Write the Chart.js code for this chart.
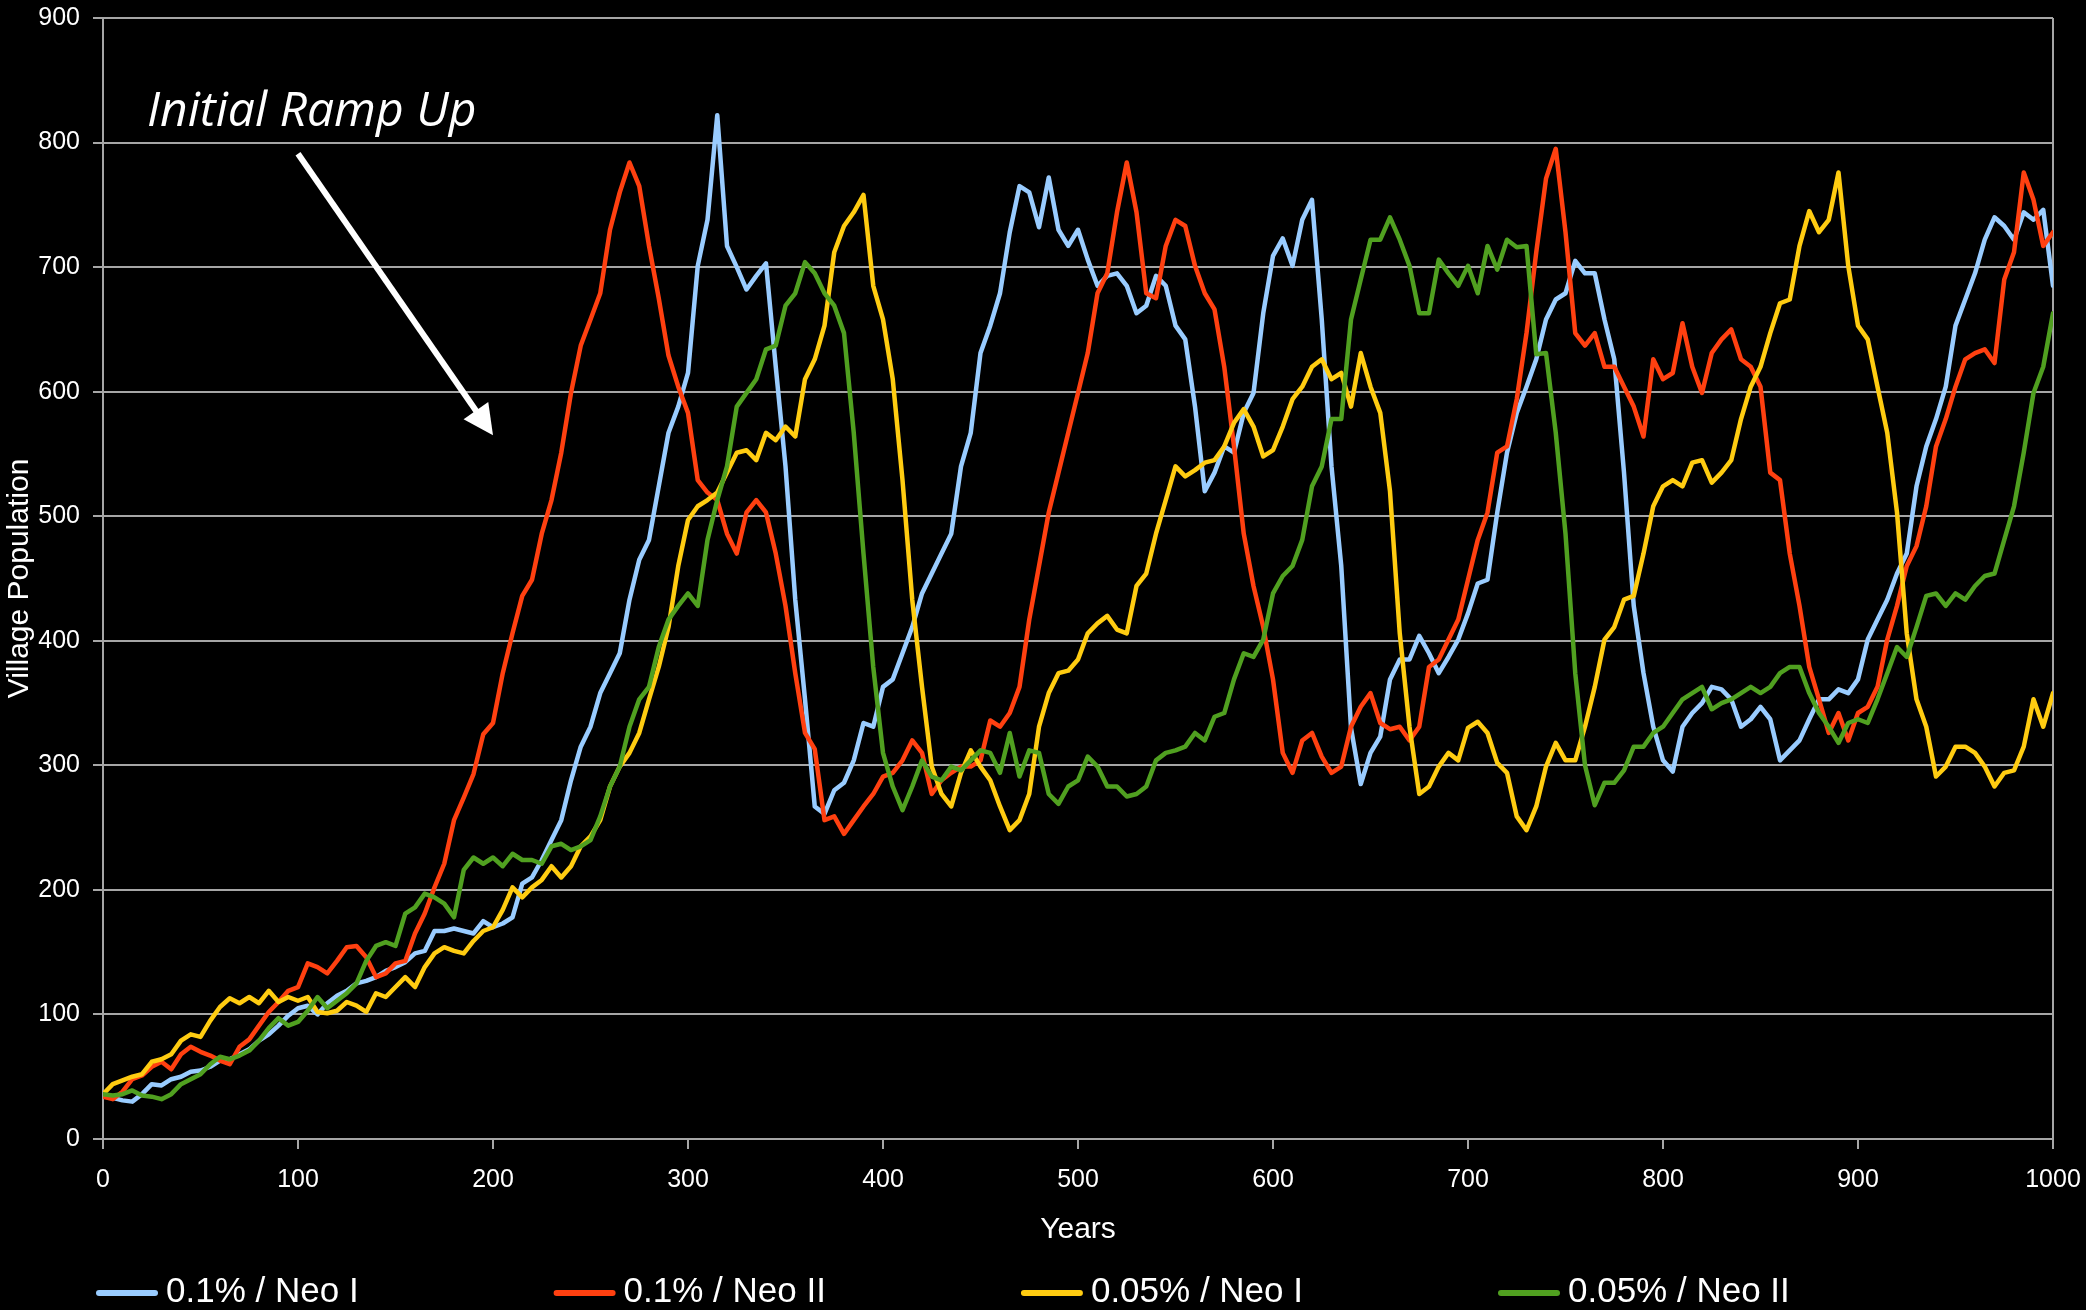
<!DOCTYPE html>
<html>
<head>
<meta charset="utf-8">
<title>Village Population</title>
<script src="https://cdn.jsdelivr.net/npm/chart.js@4/dist/chart.umd.min.js"></script>
<style>
  html, body { margin: 0; padding: 0; background: #000; overflow: hidden; }
  canvas { display: block; }
</style>
</head>
<body>
<canvas id="chart" width="2086" height="1310"></canvas>
<script>
// Simulation years, sampled every 5 years (0 … 1000)
const years = Array.from({ length: 201 }, (_, i) => i * 5);

// Village population per scenario, one value per sampled year
const popHighNeo1 = [
  35, 33, 31, 30, 36, 44, 43, 48, 50, 54, 55, 58, 63, 64, 68, 72, 79, 84, 91, 99,
  105, 107, 100, 109, 115, 119, 125, 127, 130, 135, 138, 142, 149, 151, 167, 167, 169, 167, 165, 175,
  170, 173, 178, 205, 210, 224, 240, 256, 288, 315, 331, 358, 374, 390, 433, 465, 481, 524, 567, 588,
  615, 701, 738, 822, 717, 700, 682, 693, 703, 620, 540, 433, 353, 267, 261, 280, 286, 304, 334, 331,
  363, 369, 390, 411, 438, 454, 470, 486, 540, 567, 631, 653, 679, 728, 765, 760, 732, 772, 730, 717,
  730, 706, 685, 693, 695, 685, 663, 669, 693, 685, 653, 642, 588, 520, 535, 556, 551, 583, 599, 663,
  709, 723, 701, 738, 754, 658, 540, 460, 330, 285, 310, 323, 369, 385, 385, 404, 390, 374, 387, 401,
  422, 446, 449, 503, 551, 583, 604, 626, 658, 674, 679, 705, 695, 695, 658, 626, 535, 428, 374, 331,
  304, 295, 331, 342, 350, 363, 361, 353, 331, 337, 347, 337, 304, 312, 320, 337, 353, 353, 361, 358,
  369, 401, 417, 433, 454, 470, 524, 556, 578, 604, 653, 674, 695, 722, 740, 733, 722, 744, 738, 746,
  685
];
const popHighNeo2 = [
  34, 32, 38, 48, 51, 58, 62, 56, 68, 74, 70, 67, 63, 60, 74, 80, 91, 102, 110, 119,
  122, 141, 138, 133, 143, 154, 155, 146, 130, 133, 141, 143, 165, 181, 202, 221, 256, 274, 293, 325,
  334, 374, 406, 436, 449, 486, 513, 551, 599, 637, 658, 679, 730, 760, 784, 765, 717, 675, 629, 604,
  583, 529, 519, 513, 486, 470, 503, 513, 503, 470, 428, 374, 326, 313, 256, 259, 245, 256, 267, 277,
  291, 294, 304, 320, 310, 277, 288, 294, 299, 299, 304, 336, 331, 342, 363, 417, 460, 503, 535, 567,
  599, 631, 679, 695, 744, 784, 744, 679, 675, 717, 738, 733, 701, 679, 666, 620, 556, 486, 444, 411,
  369, 310, 294, 320, 326, 307, 294, 299, 331, 347, 358, 334, 329, 331, 320, 331, 379, 385, 401, 417,
  449, 481, 503, 551, 556, 594, 647, 712, 771, 795, 728, 647, 637, 647, 620, 620, 604, 588, 564, 626,
  610, 615, 655, 620, 599, 631, 642, 650, 626, 620, 604, 535, 529, 470, 428, 379, 353, 326, 342, 320,
  342, 347, 363, 401, 428, 460, 476, 508, 556, 578, 604, 626, 631, 634, 623, 690, 712, 776, 754, 717,
  728
];
const popLowNeo1 = [
  36, 44, 47, 50, 52, 62, 64, 68, 79, 84, 82, 95, 106, 113, 109, 114, 109, 119, 110, 114,
  111, 114, 102, 101, 103, 110, 107, 102, 117, 114, 122, 130, 122, 138, 149, 154, 151, 149, 159, 167,
  170, 184, 202, 194, 202, 208, 219, 210, 219, 235, 243, 256, 283, 299, 310, 326, 353, 379, 411, 460,
  497, 508, 513, 519, 535, 551, 553, 545, 567, 561, 572, 564, 610, 626, 653, 712, 733, 744, 758, 685,
  658, 610, 529, 433, 363, 299, 277, 267, 294, 312, 299, 288, 267, 248, 256, 277, 331, 358, 374, 376,
  385, 406, 414, 420, 409, 406, 444, 454, 486, 513, 540, 532, 537, 543, 545, 556, 575, 586, 572, 548,
  553, 572, 594, 604, 620, 626, 610, 615, 588, 631, 604, 583, 520, 406, 331, 277, 283, 299, 310, 304,
  330, 335, 326, 302, 294, 259, 248, 267, 299, 318, 304, 304, 331, 363, 401, 411, 433, 436, 470, 508,
  524, 529, 524, 543, 545, 527, 535, 545, 578, 604, 620, 647, 671, 674, 717, 745, 728, 738, 776, 701,
  653, 642, 604, 567, 503, 406, 353, 331, 291, 299, 315, 315, 310, 299, 283, 294, 296, 315, 353, 331,
  358
];
const popLowNeo2 = [
  36, 35, 36, 39, 35, 34, 32, 36, 44, 48, 52, 60, 66, 64, 67, 71, 79, 89, 97, 91,
  94, 103, 114, 105, 111, 117, 125, 143, 155, 158, 155, 181, 186, 197, 194, 189, 178, 216, 226, 221,
  226, 219, 229, 224, 224, 221, 235, 237, 232, 235, 240, 259, 283, 299, 331, 353, 363, 395, 417, 428,
  438, 428, 481, 513, 540, 588, 599, 610, 634, 637, 669, 679, 704, 695, 679, 669, 647, 567, 470, 379,
  310, 283, 264, 283, 304, 291, 288, 299, 296, 304, 312, 310, 294, 326, 291, 312, 310, 277, 269, 283,
  288, 307, 299, 283, 283, 275, 277, 283, 304, 310, 312, 315, 326, 320, 339, 342, 369, 390, 387, 401,
  438, 452, 460, 481, 524, 540, 578, 578, 658, 690, 722, 722, 740, 722, 701, 663, 663, 706, 695, 685,
  701, 679, 717, 698, 722, 716, 717, 630, 631, 567, 486, 374, 300, 268, 286, 286, 296, 315, 315, 326,
  331, 342, 353, 358, 363, 345, 350, 353, 358, 363, 358, 363, 374, 379, 379, 358, 342, 331, 318, 334,
  337, 334, 353, 374, 395, 387, 411, 436, 438, 428, 438, 433, 444, 452, 454, 481, 508, 551, 599, 620,
  663
];

const seriesLabels = ['0.1% / Neo I', '0.1% / Neo II', '0.05% / Neo I', '0.05% / Neo II'];
const seriesValues = [popHighNeo1, popHighNeo2, popLowNeo1, popLowNeo2];
const seriesColors = ['#99ccff', '#ff4010', '#ffcc11', '#50a020'];

const GRID = '#a6a6a6';
const SANS = '"Liberation Sans", Arial, Helvetica, sans-serif';
Chart.defaults.font.family = SANS;
Chart.defaults.color = '#ffffff';

// Callout: italic caption with an arrow pointing at the early growth phase
const rampCallout = {
  id: 'rampCallout',
  afterDatasetsDraw(chart) {
    const { ctx, scales: { x, y } } = chart;
    ctx.save();
    ctx.fillStyle = '#ffffff';
    ctx.font = 'italic 48px "Open Sans", "Noto Sans", sans-serif';
    ctx.textBaseline = 'alphabetic';
    ctx.textAlign = 'left';
    ctx.fillText('Initial Ramp Up', x.getPixelForValue(22.6), y.getPixelForValue(813));

    const x0 = x.getPixelForValue(100), y0 = y.getPixelForValue(791);
    const x1 = x.getPixelForValue(200), y1 = y.getPixelForValue(565);
    const len = Math.hypot(x1 - x0, y1 - y0);
    const ux = (x1 - x0) / len, uy = (y1 - y0) / len;
    const headLen = 30, headHalf = 15;
    const bx = x1 - ux * headLen, by = y1 - uy * headLen;
    ctx.strokeStyle = '#ffffff';
    ctx.lineWidth = 6;
    ctx.lineCap = 'butt';
    ctx.beginPath();
    ctx.moveTo(x0, y0);
    ctx.lineTo(bx + ux * 2, by + uy * 2);
    ctx.stroke();
    ctx.beginPath();
    ctx.moveTo(x1, y1);
    ctx.lineTo(bx - uy * headHalf, by + ux * headHalf);
    ctx.lineTo(bx + uy * headHalf, by - ux * headHalf);
    ctx.closePath();
    ctx.fill();
    ctx.restore();
  }
};

// Legend row along the bottom edge: line swatch followed by the series name
const legendRow = {
  id: 'legendRow',
  afterDraw(chart) {
    const { ctx } = chart;
    const rowY = chart.height - 18;
    const swatch = 62, gap = 8, spacing = 195;
    let cx = 96;
    ctx.save();
    ctx.font = '35px ' + SANS;
    ctx.textBaseline = 'middle';
    ctx.textAlign = 'left';
    chart.data.datasets.forEach(ds => {
      ctx.strokeStyle = ds.borderColor;
      ctx.lineWidth = 6;
      ctx.lineCap = 'round';
      ctx.beginPath();
      ctx.moveTo(cx + 3, rowY + 1);
      ctx.lineTo(cx + swatch - 3, rowY + 1);
      ctx.stroke();
      ctx.fillStyle = '#ffffff';
      ctx.fillText(ds.label, cx + swatch + gap, rowY);
      cx += swatch + gap + ctx.measureText(ds.label).width + spacing;
    });
    ctx.restore();
  }
};

new Chart(document.getElementById('chart'), {
  type: 'line',
  data: {
    datasets: seriesLabels.map((label, k) => ({
      label,
      data: years.map((yr, i) => ({ x: yr, y: seriesValues[k][i] })),
      borderColor: seriesColors[k],
      backgroundColor: seriesColors[k],
      borderWidth: 4.5,
      pointRadius: 0,
      tension: 0,
      fill: false,
      order: seriesLabels.length - k
    }))
  },
  options: {
    responsive: false,
    devicePixelRatio: 1,
    animation: false,
    events: [],
    layout: { padding: { left: 0, right: 33, top: 18, bottom: 62 } },
    elements: { line: { borderJoinStyle: 'round', borderCapStyle: 'round' } },
    plugins: {
      legend: { display: false },
      tooltip: { enabled: false }
    },
    scales: {
      x: {
        type: 'linear',
        min: 0,
        max: 1000,
        ticks: {
          stepSize: 100,
          color: '#ffffff',
          font: { size: 25, lineHeight: '56px' },
          padding: 3,
          maxRotation: 0,
          autoSkip: false,
          callback: v => String(v)
        },
        grid: {
          color: c => (c.tick && c.tick.value === 1000 ? GRID : 'rgba(0,0,0,0)'),
          tickColor: GRID,
          lineWidth: 2,
          tickLength: 10
        },
        border: { color: GRID, width: 2 },
        title: {
          display: true,
          text: 'Years',
          color: '#ffffff',
          font: { size: 30 },
          padding: { top: 0, bottom: 0 }
        },
        afterFit: s => { s.height = 109; }
      },
      y: {
        min: 0,
        max: 900,
        ticks: {
          stepSize: 100,
          color: '#ffffff',
          font: { size: 25, lineHeight: '8px' },
          padding: 13
        },
        grid: { color: GRID, lineWidth: 2, tickLength: 10 },
        border: { color: GRID, width: 2 },
        title: {
          display: true,
          text: 'Village Population',
          color: '#ffffff',
          font: { size: 30 },
          padding: { top: 2, bottom: 0 }
        },
        afterFit: s => { s.width = 103; }
      }
    }
  },
  plugins: [rampCallout, legendRow]
});
</script>
</body>
</html>
